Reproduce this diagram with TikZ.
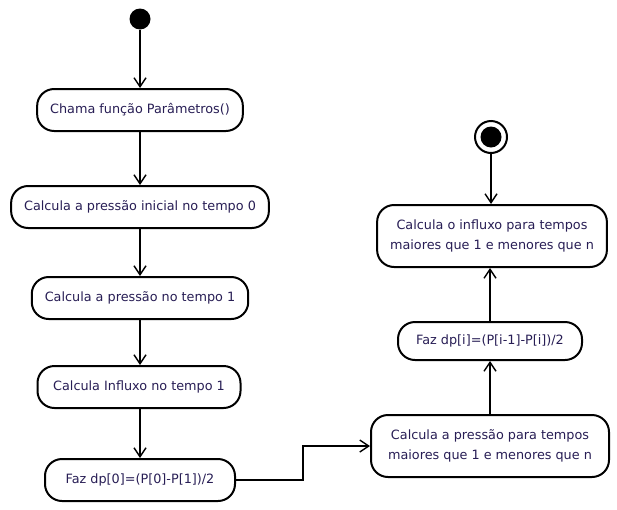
\documentclass[tikz,border=0pt]{standalone}
\usepackage{fontspec}
\setmainfont{DejaVu Sans}
\usepackage{tikz}
\usetikzlibrary{positioning,arrows.meta}
\definecolor{txtblue}{RGB}{40,30,85}

\tikzset{
  act/.style={draw,line width=2pt,rounded corners=17pt,fill=white,
    text=txtblue,minimum height=42pt,inner xsep=13pt,align=center,
    font=\fontsize{12.8}{20}\selectfont},
  flow/.style={line width=2pt,-{Straight Barb[length=9pt,width=12pt,line width=1.4pt]}}
}

\begin{document}
\begin{tikzpicture}[x=1pt,y=-1pt]
\useasboundingbox (0,0) rectangle (617,509);
% Start and end
\node[circle,fill=black,minimum size=21pt,inner sep=0pt] (start) at (140,19) {};
\node[circle,draw,line width=2pt,minimum size=32pt,inner sep=0pt] (stop) at (491,137) {};
\fill (stop.center) circle (10.5pt);
% Left column
\node[act] (param) at (140,110) {Chama função Parâmetros()};
\node[act] (pini) at (140,207) {Calcula a pressão inicial no tempo 0};
\node[act] (pone) at (140,298) {Calcula a pressão no tempo 1};
\node[act,minimum width=203pt] (infone) at (139,387) {Calcula Influxo no tempo 1};
\node[act,minimum width=190pt] (dpzero) at (140,480) {Faz dp[0]=(P[0]-P[1])/2};
% Right column
\node[act,minimum height=62pt,minimum width=238pt] (pn) at (490,446) {Calcula a pressão para tempos\\maiores que 1 e menores que n};
\node[act,minimum height=38pt,minimum width=184pt] (dpi) at (490,341) {Faz dp[i]=(P[i-1]-P[i])/2};
\node[act,minimum height=62pt] (infn) at (492,236) {Calcula o influxo para tempos\\maiores que 1 e menores que n};
% Connectors
\draw[flow] (start) -- (param);
\draw[flow] (param) -- (pini);
\draw[flow] (pini) -- (pone);
\draw[flow] (pone) -- (infone.north -| pone.south);
\draw[flow] (infone.south -| dpzero.north) -- (dpzero);
\draw[flow] (dpzero.east) -- ++(67,0) |- (pn.west);
\draw[flow] (pn) -- (dpi);
\draw[flow] (dpi) -- (infn.south -| dpi.north);
\draw[flow] (stop) -- (infn.north -| stop.south);
\end{tikzpicture}
\end{document}
